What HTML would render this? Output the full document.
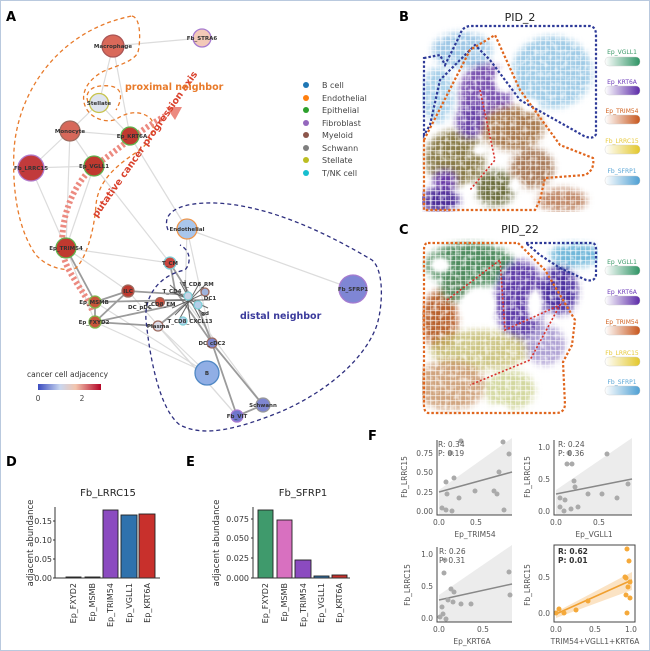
<!DOCTYPE html>
<html><head><meta charset="utf-8"><style>
html,body{margin:0;padding:0;background:#fff}
svg{display:block;font-family:"DejaVu Sans","Liberation Sans",sans-serif}
</style></head><body>
<svg width="650" height="651" viewBox="0 0 650 651" xmlns="http://www.w3.org/2000/svg">
<defs>
<filter id="bl" x="-30%" y="-30%" width="160%" height="160%"><feGaussianBlur stdDeviation="3.5"/></filter>
<filter id="bl2" x="-30%" y="-30%" width="160%" height="160%"><feGaussianBlur stdDeviation="2"/></filter>
<pattern id="tex" width="5" height="5" patternUnits="userSpaceOnUse"><rect width="5" height="5" fill="none"/><rect x="0" y="0" width="5" height="1.2" fill="#fff" opacity="0.55"/><rect x="0" y="0" width="1.2" height="5" fill="#fff" opacity="0.55"/></pattern>
<filter id="noise" x="0" y="0" width="100%" height="100%"><feTurbulence type="fractalNoise" baseFrequency="0.18" numOctaves="2" seed="3"/><feColorMatrix values="0 0 0 0 1  0 0 0 0 1  0 0 0 0 1  0 0 0 1.6 -0.75"/></filter>
<linearGradient id="cb" x1="0" x2="1"><stop offset="0" stop-color="#3b4cc0"/><stop offset="0.35" stop-color="#c9d7f0"/><stop offset="0.6" stop-color="#f2c4ad"/><stop offset="1" stop-color="#b40426"/></linearGradient>
<linearGradient id="gG" x1="0" x2="1"><stop offset="0" stop-color="#fff"/><stop offset="1" stop-color="#2e9464"/></linearGradient>
<linearGradient id="gP" x1="0" x2="1"><stop offset="0" stop-color="#fff"/><stop offset="1" stop-color="#5b2aa8"/></linearGradient>
<linearGradient id="gO" x1="0" x2="1"><stop offset="0" stop-color="#fff"/><stop offset="1" stop-color="#c8561c"/></linearGradient>
<linearGradient id="gY" x1="0" x2="1"><stop offset="0" stop-color="#fff"/><stop offset="1" stop-color="#e3c72a"/></linearGradient>
<linearGradient id="gB" x1="0" x2="1"><stop offset="0" stop-color="#fff"/><stop offset="1" stop-color="#4d9fd3"/></linearGradient>
<clipPath id="cB"><rect x="422" y="24" width="176" height="188"/></clipPath>
<clipPath id="cC"><rect x="422" y="238" width="176" height="178"/></clipPath>
</defs>
<rect x="0.5" y="0.5" width="649" height="650" fill="#fff" stroke="#b9c9de"/>

<!-- ===== Panel A ===== -->
<text x="6" y="21" font-size="13" font-weight="bold">A</text>
<g stroke="#dcdcdc" stroke-width="1.2" fill="none">
<line x1="113" y1="46" x2="202" y2="38"/><line x1="113" y1="46" x2="99" y2="103"/><line x1="113" y1="46" x2="130" y2="136"/>
<line x1="70" y1="131" x2="130" y2="136"/><line x1="70" y1="131" x2="94" y2="166"/><line x1="70" y1="131" x2="66" y2="248"/>
<line x1="31" y1="168" x2="94" y2="166"/><line x1="31" y1="168" x2="66" y2="248"/><line x1="94" y1="166" x2="66" y2="248"/>
<line x1="130" y1="136" x2="187" y2="229"/><line x1="94" y1="166" x2="170" y2="263"/><line x1="99" y1="103" x2="130" y2="136"/>
<line x1="187" y1="229" x2="353" y2="289"/><line x1="187" y1="229" x2="185" y2="300"/><line x1="187" y1="229" x2="212" y2="343"/>
<line x1="66" y1="248" x2="128" y2="291"/><line x1="66" y1="248" x2="95" y2="322"/><line x1="158" y1="326" x2="207" y2="373"/>
<line x1="95" y1="322" x2="207" y2="373"/><line x1="185" y1="300" x2="263" y2="405"/><line x1="128" y1="291" x2="237" y2="416"/>
<line x1="70" y1="131" x2="99" y2="103"/><line x1="70" y1="131" x2="31" y2="168"/>
<line x1="66" y1="248" x2="170" y2="263"/><line x1="95" y1="302" x2="207" y2="373"/><line x1="158" y1="326" x2="237" y2="416"/>
</g>
<g stroke="#8a8a8a" stroke-width="1.8" fill="none" opacity="0.85">
<line x1="95" y1="302" x2="128" y2="291"/><line x1="95" y1="322" x2="128" y2="291"/><line x1="95" y1="302" x2="95" y2="322"/>
<line x1="95" y1="302" x2="185" y2="300"/><line x1="95" y1="322" x2="175" y2="305"/><line x1="128" y1="291" x2="190" y2="295"/>
<line x1="170" y1="263" x2="190" y2="295"/><line x1="170" y1="263" x2="175" y2="290"/><line x1="212" y1="343" x2="263" y2="405"/>
<line x1="212" y1="343" x2="237" y2="416"/><line x1="212" y1="343" x2="195" y2="300"/><line x1="237" y1="416" x2="263" y2="405"/>
<line x1="158" y1="326" x2="190" y2="300"/><line x1="212" y1="343" x2="175" y2="290"/><line x1="66" y1="248" x2="95" y2="302"/>
<line x1="158" y1="326" x2="95" y2="322"/>
</g>
<g stroke="#444" stroke-width="1" opacity="0.8">
<line x1="170" y1="285" x2="205" y2="315"/><line x1="175" y1="315" x2="205" y2="285"/><line x1="165" y1="300" x2="210" y2="300"/>
<line x1="185" y1="280" x2="190" y2="320"/><line x1="172" y1="292" x2="208" y2="308"/><line x1="172" y1="308" x2="208" y2="292"/>
<line x1="180" y1="282" x2="200" y2="318"/><line x1="200" y1="282" x2="180" y2="318"/>
</g>
<path d="M132,16 C142,18 140,45 138,52 C134,62 115,66 102,72 C85,82 80,96 86,108 C92,120 110,124 118,118 C128,112 140,110 150,118 C158,126 150,142 140,150 C118,164 98,180 96,205 C94,232 86,258 76,268 C66,272 48,268 36,255 C18,230 12,190 14,150 C18,90 60,30 132,16 Z" fill="none" stroke="#e87a2a" stroke-width="1.3" stroke-dasharray="4,3"/>
<path d="M88,102 C84,92 92,84 110,86 C124,88 122,100 116,110" fill="none" stroke="#e87a2a" stroke-width="1.3" stroke-dasharray="4,3"/>
<path d="M168,230 C160,210 185,202 215,203 C270,205 330,235 372,260 C386,272 382,315 375,330 C360,365 320,395 280,412 C240,428 205,438 180,425 C160,410 150,360 146,320 C144,295 160,275 185,270 C192,262 190,250 180,245" fill="none" stroke="#2e2f7f" stroke-width="1.3" stroke-dasharray="4,3"/>
<path d="M92,310 C85,290 62,270 62,245 C62,205 80,175 100,162 C120,148 140,130 165,116" fill="none" stroke="#ec8a80" stroke-width="6" stroke-dasharray="2.5,2.5"/>
<polygon points="166,107 182,107 175,120" fill="#ec8a80"/>
<text transform="translate(97,218) rotate(-55)" font-size="9.5" font-weight="bold" fill="#d9402b">putative cancer progression axis</text>
<text x="125" y="90" font-size="9.5" font-weight="bold" fill="#e87a2a">proximal neighbor</text>
<text x="240" y="319" font-size="9.5" font-weight="bold" fill="#3b3b9c">distal neighbor</text>
<g stroke-width="1.3">
<circle cx="113" cy="46" r="11" fill="#d9695a" stroke="#a55"/>
<circle cx="202" cy="38" r="9" fill="#f3c9b8" stroke="#a77bd0"/>
<circle cx="99" cy="103" r="9.5" fill="#dfe5ef" stroke="#c7c34a"/>
<circle cx="70" cy="131" r="10" fill="#d7685a" stroke="#9c6a5e"/>
<circle cx="130" cy="136" r="9" fill="#c0392f" stroke="#5fb44e"/>
<circle cx="31" cy="168" r="13" fill="#c13a3b" stroke="#b07acc"/>
<circle cx="94" cy="166" r="10" fill="#c0392f" stroke="#5fb44e"/>
<circle cx="66" cy="248" r="10" fill="#c0392f" stroke="#5fb44e"/>
<circle cx="187" cy="229" r="10" fill="#a9c6ec" stroke="#f0964a"/>
<circle cx="170" cy="263" r="6" fill="#c9463e" stroke="#7fd0d8"/>
<circle cx="128" cy="291" r="6" fill="#c0392f" stroke="#9c6a5e"/>
<circle cx="95" cy="302" r="6" fill="#c8553a" stroke="#7fb84e"/>
<circle cx="95" cy="322" r="6" fill="#c8553a" stroke="#7fb84e"/>
<circle cx="158" cy="326" r="5" fill="#dcdce8" stroke="#9c6a5e"/>
<circle cx="160" cy="302" r="4.5" fill="#d0503e" stroke="#9c6a5e"/>
<circle cx="188" cy="296" r="4" fill="#c9d3e6" stroke="#7fd0d8"/>
<circle cx="198" cy="305" r="4" fill="#b5cde8" stroke="#7fd0d8"/>
<circle cx="183" cy="321" r="4" fill="#b8d2ea" stroke="#7fd0d8"/>
<circle cx="205" cy="292" r="4" fill="#9fb3dc" stroke="#9c6a5e"/>
<circle cx="212" cy="343" r="5" fill="#7b84cc" stroke="#9c6a5e"/>
<circle cx="207" cy="373" r="12" fill="#90aee5" stroke="#4f87c4"/>
<circle cx="263" cy="405" r="7" fill="#7e86d0" stroke="#999"/>
<circle cx="237" cy="416" r="6" fill="#6e76cc" stroke="#a77bd0"/>
<circle cx="353" cy="289" r="14" fill="#7f86d4" stroke="#a77bd0"/>
</g>
<g font-size="5.5" font-weight="bold" fill="#333" text-anchor="middle">
<text x="113" y="48">Macrophage</text><text x="202" y="40">Fb_STRA6</text><text x="99" y="105">Stellate</text>
<text x="70" y="133">Monocyte</text><text x="132" y="138">Ep_KRT6A</text><text x="31" y="170">Fb_LRRC15</text>
<text x="94" y="168">Ep_VGLL1</text><text x="66" y="250">Ep_TRIM54</text><text x="187" y="231">Endothelial</text>
<text x="170" y="265">T_CM</text><text x="128" y="293">ILC</text><text x="94" y="304">Ep_MSMB</text><text x="94" y="324">Ep_FXYD2</text>
<text x="158" y="328">Plasma</text><text x="212" y="345">DC_cDC2</text><text x="207" y="375">B</text>
<text x="263" y="407">Schwann</text><text x="237" y="418">Fb_VIT</text><text x="353" y="291">Fb_SFRP1</text>
<text x="198" y="286">T_CD8_RM</text><text x="172" y="293">T_CD4</text><text x="210" y="300">DC1</text>
<text x="160" y="306">T_CD8_EM</text><text x="190" y="323">T_CD8_CXCL13</text><text x="205" y="315">gd</text><text x="140" y="309">DC_pDC</text>
</g>
<g font-size="8" fill="#444">
<circle cx="306" cy="85" r="3" fill="#1f77b4"/><text x="322" y="88">B cell</text>
<circle cx="306" cy="98" r="3" fill="#ff7f0e"/><text x="322" y="101">Endothelial</text>
<circle cx="306" cy="110" r="3" fill="#2ca02c"/><text x="322" y="113">Epithelial</text>
<circle cx="306" cy="123" r="3" fill="#9467bd"/><text x="322" y="126">Fibroblast</text>
<circle cx="306" cy="135" r="3" fill="#8c564b"/><text x="322" y="138">Myeloid</text>
<circle cx="306" cy="148" r="3" fill="#7f7f7f"/><text x="322" y="151">Schwann</text>
<circle cx="306" cy="160" r="3" fill="#bcbd22"/><text x="322" y="163">Stellate</text>
<circle cx="306" cy="173" r="3" fill="#17becf"/><text x="322" y="176">T/NK cell</text>
</g>
<text x="27" y="377" font-size="7.5" fill="#333">cancer cell adjacency</text>
<rect x="38" y="384" width="63" height="6" fill="url(#cb)"/>
<g font-size="7.5" fill="#444" text-anchor="middle"><text x="38" y="401">0</text><text x="82" y="401">2</text></g>

<!-- ===== Panel B ===== -->
<text x="399" y="21" font-size="13" font-weight="bold">B</text>
<text x="520" y="21" font-size="11" text-anchor="middle" fill="#222">PID_2</text>
<g clip-path="url(#cB)">
<g filter="url(#bl)">
<ellipse cx="552" cy="72" rx="40" ry="36" fill="#9fcbe6"/>
<ellipse cx="462" cy="50" rx="30" ry="18" fill="#9fc8e6"/>
<ellipse cx="438" cy="95" rx="16" ry="28" fill="#a6cfe9"/>
<ellipse cx="485" cy="95" rx="26" ry="32" fill="#7a52b0"/>
<ellipse cx="512" cy="128" rx="32" ry="22" fill="#a87a50"/>
<ellipse cx="455" cy="158" rx="30" ry="28" fill="#8a7c48"/>
<ellipse cx="440" cy="200" rx="20" ry="12" fill="#4e2e98"/>
<ellipse cx="470" cy="120" rx="14" ry="18" fill="#6a44a8"/>
<ellipse cx="532" cy="168" rx="22" ry="20" fill="#a87a58"/>
<ellipse cx="562" cy="200" rx="25" ry="12" fill="#c08868"/>
<ellipse cx="495" cy="188" rx="20" ry="18" fill="#6e7040"/>
<ellipse cx="445" cy="180" rx="12" ry="10" fill="#6a3aa8"/>
</g>
<g fill="#fff" filter="url(#bl2)">
<ellipse cx="505" cy="80" rx="11" ry="13"/><ellipse cx="480" cy="150" rx="8" ry="6"/><ellipse cx="530" cy="105" rx="9" ry="7"/>
<ellipse cx="470" cy="190" rx="7" ry="6"/><ellipse cx="515" cy="185" rx="6" ry="8"/><ellipse cx="590" cy="170" rx="15" ry="20"/>
<ellipse cx="580" cy="140" rx="10" ry="6"/>
</g>
<rect x="422" y="24" width="176" height="188" filter="url(#noise)"/>
<rect x="422" y="24" width="176" height="188" fill="url(#tex)"/>
</g>
<path d="M424,58 L440,55 L445,65 L460,35 Q462,27 470,26 L590,26 Q596,27 596,35 L596,134 Q594,140 584,136 L520,100 L490,60 L475,45 L440,80 L430,125 L424,135 Z" fill="none" stroke="#2e3a98" stroke-width="2.2" stroke-dasharray="2.5,2"/>
<path d="M424,140 L470,50 L495,35 L520,90 L560,145 L593,158 Q595,170 585,175 L545,178 L540,200 L535,210 L424,210 Z" fill="none" stroke="#e0661e" stroke-width="2.2" stroke-dasharray="2.5,2"/>
<path d="M480,90 L495,160 L470,190" fill="none" stroke="#d8302a" stroke-width="1.6" stroke-dasharray="2,2"/>
<g font-size="6" text-anchor="middle">
<text x="622" y="54" fill="#3c9a6a">Ep_VGLL1</text><rect x="605" y="57" width="35" height="9" rx="4" fill="url(#gG)" stroke="#ccc" stroke-width="0.4"/>
<text x="622" y="84" fill="#6b3ab8">Ep_KRT6A</text><rect x="605" y="86" width="35" height="9" rx="4" fill="url(#gP)" stroke="#ccc" stroke-width="0.4"/>
<text x="622" y="113" fill="#d0601e">Ep_TRIM54</text><rect x="605" y="115" width="35" height="9" rx="4" fill="url(#gO)" stroke="#ccc" stroke-width="0.4"/>
<text x="622" y="143" fill="#e7c93a">Fb_LRRC15</text><rect x="605" y="145" width="35" height="9" rx="4" fill="url(#gY)" stroke="#ccc" stroke-width="0.4"/>
<text x="622" y="173" fill="#5aa6d6">Fb_SFRP1</text><rect x="605" y="176" width="35" height="9" rx="4" fill="url(#gB)" stroke="#ccc" stroke-width="0.4"/>
</g>

<!-- ===== Panel C ===== -->
<text x="399" y="234" font-size="13" font-weight="bold">C</text>
<text x="520" y="233" font-size="11" text-anchor="middle" fill="#222">PID_22</text>
<g clip-path="url(#cC)">
<g filter="url(#bl)">
<ellipse cx="470" cy="265" rx="45" ry="22" fill="#4f8c5e"/>
<ellipse cx="440" cy="320" rx="18" ry="30" fill="#b8622e"/>
<ellipse cx="520" cy="300" rx="25" ry="40" fill="#5e3ea8"/>
<ellipse cx="560" cy="290" rx="18" ry="25" fill="#4e30a0"/>
<ellipse cx="575" cy="255" rx="25" ry="12" fill="#72b8da"/>
<ellipse cx="480" cy="350" rx="50" ry="20" fill="#c0b868" opacity="0.8"/>
<ellipse cx="450" cy="385" rx="35" ry="25" fill="#c89468" opacity="0.85"/>
<ellipse cx="510" cy="390" rx="25" ry="20" fill="#c0c878" opacity="0.7"/>
<ellipse cx="545" cy="345" rx="20" ry="20" fill="#8a78c0" opacity="0.7"/>
<ellipse cx="455" cy="290" rx="15" ry="12" fill="#5a8a60"/>
</g>
<g fill="#fff" filter="url(#bl2)">
<ellipse cx="478" cy="305" rx="18" ry="16"/><ellipse cx="535" cy="305" rx="8" ry="16"/><ellipse cx="440" cy="265" rx="10" ry="8"/>
<ellipse cx="580" cy="380" rx="18" ry="40"/><ellipse cx="500" cy="410" rx="10" ry="6"/>
</g>
<rect x="422" y="238" width="176" height="178" filter="url(#noise)"/>
<rect x="422" y="238" width="176" height="178" fill="url(#tex)"/>
</g>
<path d="M526,243 L592,243 Q596,243 596,250 L596,275 Q595,282 586,280 L560,268 L540,255 Z" fill="none" stroke="#2e3a98" stroke-width="2.2" stroke-dasharray="2.5,2"/>
<path d="M428,243 L518,243 L545,270 L575,320 L572,345 L563,362 L565,405 Q564,413 556,413 L428,413 Q424,412 424,405 L424,250 Q424,243 428,243 Z" fill="none" stroke="#e0661e" stroke-width="2.2" stroke-dasharray="2.5,2"/>
<path d="M447,300 L500,260 L505,330 L560,305 L530,360 L470,385" fill="none" stroke="#d8302a" stroke-width="1.6" stroke-dasharray="2,2"/>
<g font-size="6" text-anchor="middle">
<text x="622" y="264" fill="#3c9a6a">Ep_VGLL1</text><rect x="605" y="266" width="35" height="9" rx="4" fill="url(#gG)" stroke="#ccc" stroke-width="0.4"/>
<text x="622" y="294" fill="#6b3ab8">Ep_KRT6A</text><rect x="605" y="296" width="35" height="9" rx="4" fill="url(#gP)" stroke="#ccc" stroke-width="0.4"/>
<text x="622" y="324" fill="#d0601e">Ep_TRIM54</text><rect x="605" y="326" width="35" height="9" rx="4" fill="url(#gO)" stroke="#ccc" stroke-width="0.4"/>
<text x="622" y="355" fill="#e7c93a">Fb_LRRC15</text><rect x="605" y="357" width="35" height="9" rx="4" fill="url(#gY)" stroke="#ccc" stroke-width="0.4"/>
<text x="622" y="384" fill="#5aa6d6">Fb_SFRP1</text><rect x="605" y="386" width="35" height="9" rx="4" fill="url(#gB)" stroke="#ccc" stroke-width="0.4"/>
</g>

<!-- ===== Panel D ===== -->
<text x="6" y="466" font-size="13" font-weight="bold">D</text>
<text x="108" y="496" font-size="10" text-anchor="middle" fill="#222">Fb_LRRC15</text>
<g stroke="#222" stroke-width="0.9">
<rect x="66" y="577" width="15" height="1" fill="#111"/><rect x="85" y="577" width="15" height="1" fill="#111"/>
<rect x="103" y="510" width="15" height="68" fill="#8b4bc0"/>
<rect x="121" y="515" width="16" height="63" fill="#2f72ad"/>
<rect x="139" y="514" width="16" height="64" fill="#c8302c"/>
</g>
<path d="M55,507 V578 H160" fill="none" stroke="#333" stroke-width="1"/>
<g font-size="8" fill="#333" text-anchor="end">
<text x="52" y="581">0.00</text><text x="52" y="562">0.05</text><text x="52" y="543">0.10</text><text x="52" y="524">0.15</text>
</g>
<g stroke="#333"><line x1="53" y1="578" x2="55" y2="578"/><line x1="53" y1="559" x2="55" y2="559"/><line x1="53" y1="540" x2="55" y2="540"/><line x1="53" y1="521" x2="55" y2="521"/></g>
<text transform="translate(33,543) rotate(-90)" font-size="8.5" fill="#333" text-anchor="middle">adjacent abundance</text>
<g font-size="8" fill="#333" text-anchor="end">
<text transform="translate(76,583) rotate(-90)">Ep_FXYD2</text>
<text transform="translate(95,583) rotate(-90)">Ep_MSMB</text>
<text transform="translate(113,583) rotate(-90)">Ep_TRIM54</text>
<text transform="translate(132,583) rotate(-90)">Ep_VGLL1</text>
<text transform="translate(150,583) rotate(-90)">Ep_KRT6A</text>
</g>

<!-- ===== Panel E ===== -->
<text x="186" y="466" font-size="13" font-weight="bold">E</text>
<text x="303" y="496" font-size="10" text-anchor="middle" fill="#222">Fb_SFRP1</text>
<g stroke="#222" stroke-width="0.9">
<rect x="258" y="510" width="15" height="68" fill="#3f9a6c"/>
<rect x="277" y="520" width="15" height="58" fill="#d870c0"/>
<rect x="295" y="560" width="16" height="18" fill="#8b4bc0"/>
<rect x="314" y="576" width="15" height="2" fill="#2f72ad"/>
<rect x="332" y="575" width="15" height="3" fill="#c8302c"/>
</g>
<path d="M253,507 V578 H350" fill="none" stroke="#333" stroke-width="1"/>
<g font-size="8" fill="#333" text-anchor="end">
<text x="249" y="581">0.000</text><text x="249" y="561">0.025</text><text x="249" y="541">0.050</text><text x="249" y="522">0.075</text>
</g>
<g stroke="#333"><line x1="251" y1="578" x2="253" y2="578"/><line x1="251" y1="558" x2="253" y2="558"/><line x1="251" y1="538" x2="253" y2="538"/><line x1="251" y1="519" x2="253" y2="519"/></g>
<text transform="translate(219,543) rotate(-90)" font-size="8.5" fill="#333" text-anchor="middle">adjacent abundance</text>
<g font-size="8" fill="#333" text-anchor="end">
<text transform="translate(268,583) rotate(-90)">Ep_FXYD2</text>
<text transform="translate(287,583) rotate(-90)">Ep_MSMB</text>
<text transform="translate(306,583) rotate(-90)">Ep_TRIM54</text>
<text transform="translate(324,583) rotate(-90)">Ep_VGLL1</text>
<text transform="translate(342,583) rotate(-90)">Ep_KRT6A</text>
</g>

<!-- ===== Panel F ===== -->
<text x="368" y="440" font-size="13" font-weight="bold">F</text>
<g font-size="7.5" fill="#555">
<polygon points="439,490 512,438 512,515 439,515" fill="#ececec"/>
<line x1="439" y1="492" x2="512" y2="472" stroke="#888" stroke-width="1.5"/>
<g fill="#aaa"><circle cx="446" cy="482" r="2.5"/><circle cx="454" cy="478" r="2.5"/><circle cx="447" cy="494" r="2.5"/><circle cx="459" cy="498" r="2.5"/>
<circle cx="442" cy="508" r="2.5"/><circle cx="446" cy="510" r="2.5"/><circle cx="452" cy="511" r="2.5"/><circle cx="475" cy="491" r="2.5"/>
<circle cx="494" cy="491" r="2.5"/><circle cx="497" cy="494" r="2.5"/><circle cx="499" cy="472" r="2.5"/><circle cx="503" cy="442" r="2.5"/>
<circle cx="509" cy="454" r="2.5"/><circle cx="504" cy="510" r="2.5"/><circle cx="461" cy="441" r="2.5"/><circle cx="451" cy="453" r="2.5"/></g>
<path d="M437,440 V515 H512" fill="none" stroke="#444"/>
<text x="433" y="514" text-anchor="end">0.00</text><text x="433" y="495" text-anchor="end">0.25</text><text x="433" y="475" text-anchor="end">0.50</text><text x="433" y="456" text-anchor="end">0.75</text>
<text x="439" y="525" text-anchor="middle">0.0</text><text x="476" y="525" text-anchor="middle">0.5</text>
<text x="475" y="537" text-anchor="middle">Ep_TRIM54</text>
<text transform="translate(407,477) rotate(-90)" text-anchor="middle">Fb_LRRC15</text>
<text x="438" y="447">R: 0.34</text><text x="438" y="456">P: 0.19</text>
<polygon points="556,490 632,438 632,515 556,515" fill="#ececec"/>
<line x1="556" y1="494" x2="632" y2="479" stroke="#888" stroke-width="1.5"/>
<g fill="#aaa"><circle cx="560" cy="498" r="2.5"/><circle cx="565" cy="500" r="2.5"/><circle cx="560" cy="507" r="2.5"/><circle cx="564" cy="511" r="2.5"/>
<circle cx="571" cy="509" r="2.5"/><circle cx="572" cy="464" r="2.5"/><circle cx="567" cy="464" r="2.5"/><circle cx="569" cy="453" r="2.5"/>
<circle cx="574" cy="481" r="2.5"/><circle cx="575" cy="487" r="2.5"/><circle cx="578" cy="507" r="2.5"/><circle cx="588" cy="494" r="2.5"/>
<circle cx="602" cy="494" r="2.5"/><circle cx="607" cy="454" r="2.5"/><circle cx="617" cy="498" r="2.5"/><circle cx="628" cy="484" r="2.5"/></g>
<path d="M554,440 V515 H632" fill="none" stroke="#444"/>
<text x="550" y="514" text-anchor="end">0.0</text><text x="550" y="482" text-anchor="end">0.5</text><text x="550" y="450" text-anchor="end">1.0</text>
<text x="556" y="525" text-anchor="middle">0.0</text><text x="599" y="525" text-anchor="middle">0.5</text>
<text x="594" y="537" text-anchor="middle">Ep_VGLL1</text>
<text transform="translate(530,477) rotate(-90)" text-anchor="middle">Fb_LRRC15</text>
<text x="558" y="447">R: 0.24</text><text x="558" y="456">P: 0.36</text>
<polygon points="439,595 512,545 512,622 439,622" fill="#ececec"/>
<line x1="439" y1="600" x2="512" y2="584" stroke="#888" stroke-width="1.5"/>
<g fill="#aaa"><circle cx="440" cy="617" r="2.5"/><circle cx="443" cy="614" r="2.5"/><circle cx="446" cy="619" r="2.5"/><circle cx="442" cy="607" r="2.5"/>
<circle cx="448" cy="600" r="2.5"/><circle cx="453" cy="602" r="2.5"/><circle cx="444" cy="573" r="2.5"/><circle cx="445" cy="560" r="2.5"/>
<circle cx="451" cy="589" r="2.5"/><circle cx="454" cy="592" r="2.5"/><circle cx="461" cy="604" r="2.5"/><circle cx="471" cy="604" r="2.5"/>
<circle cx="509" cy="572" r="2.5"/><circle cx="510" cy="595" r="2.5"/></g>
<path d="M437,547 V622 H512" fill="none" stroke="#444"/>
<text x="433" y="621" text-anchor="end">0.0</text><text x="433" y="589" text-anchor="end">0.5</text><text x="433" y="557" text-anchor="end">1.0</text>
<text x="439" y="632" text-anchor="middle">0.0</text><text x="483" y="632" text-anchor="middle">0.5</text>
<text x="472" y="644" text-anchor="middle">Ep_KRT6A</text>
<text transform="translate(410,585) rotate(-90)" text-anchor="middle">Fb_LRRC15</text>
<text x="439" y="554">R: 0.26</text><text x="439" y="563">P: 0.31</text>
<polygon points="556,612 632,572 632,590 556,618" fill="#fbe3c4"/>
<line x1="556" y1="614" x2="632" y2="580" stroke="#f0a030" stroke-width="1.6"/>
<g fill="#f5a93a"><circle cx="556" cy="613" r="2.5"/><circle cx="559" cy="609" r="2.5"/><circle cx="564" cy="613" r="2.5"/><circle cx="576" cy="610" r="2.5"/>
<circle cx="588" cy="601" r="2.5"/><circle cx="627" cy="549" r="2.5"/><circle cx="629" cy="561" r="2.5"/><circle cx="626" cy="578" r="2.5"/>
<circle cx="630" cy="582" r="2.5"/><circle cx="628" cy="587" r="2.5"/><circle cx="626" cy="595" r="2.5"/><circle cx="630" cy="598" r="2.5"/>
<circle cx="627" cy="613" r="2.5"/><circle cx="625" cy="577" r="2.5"/></g>
<rect x="554" y="545" width="81" height="77" fill="none" stroke="#444"/>
<text x="550" y="616" text-anchor="end">0.0</text><text x="550" y="580" text-anchor="end">0.5</text>
<text x="556" y="632" text-anchor="middle">0.0</text><text x="595" y="632" text-anchor="middle">0.5</text><text x="631" y="632" text-anchor="middle">1.0</text>
<text x="595" y="644" text-anchor="middle">TRIM54+VGLL1+KRT6A</text>
<text transform="translate(530,585) rotate(-90)" text-anchor="middle">Fb_LRRC15</text>
<text x="558" y="554" font-weight="bold" fill="#333">R: 0.62</text><text x="558" y="563" font-weight="bold" fill="#333">P: 0.01</text>
</g>
</svg>
</body></html>
